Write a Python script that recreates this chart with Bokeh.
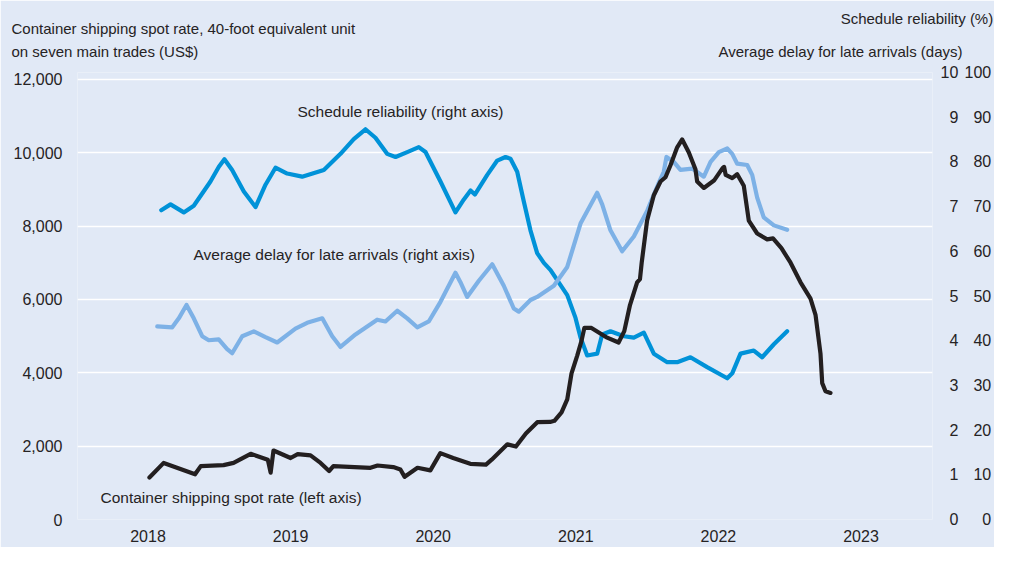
from bokeh.plotting import figure
from bokeh.models import Range1d, LinearAxis, FixedTicker, NumeralTickFormatter, Label
from bokeh.embed import file_html
from bokeh.resources import INLINE

# ---------------- data ----------------
years_spot = [2018.01, 2018.11, 2018.33, 2018.37, 2018.53, 2018.60, 2018.72, 2018.84, 2018.86, 2018.88,
              2019.00, 2019.05, 2019.14, 2019.21, 2019.27, 2019.30, 2019.56, 2019.61, 2019.72, 2019.77,
              2019.80, 2019.89, 2019.98, 2020.05, 2020.14, 2020.26, 2020.37, 2020.41, 2020.52, 2020.58,
              2020.65, 2020.73, 2020.82, 2020.85, 2020.90, 2020.94, 2020.97, 2021.01, 2021.04, 2021.06,
              2021.11, 2021.22, 2021.30, 2021.34, 2021.38, 2021.43, 2021.45, 2021.462, 2021.50, 2021.547,
              2021.594, 2021.629, 2021.664, 2021.711, 2021.746, 2021.792, 2021.839, 2021.851, 2021.898,
              2021.969, 2022.028, 2022.040, 2022.051, 2022.097, 2022.132, 2022.178, 2022.213, 2022.272,
              2022.342, 2022.383, 2022.442, 2022.506, 2022.576, 2022.646, 2022.681, 2022.716, 2022.728,
              2022.751, 2022.786]
spot_rate = [1144, 1543, 1232, 1455, 1482, 1543, 1791, 1631, 1277, 1881,
             1676, 1783, 1748, 1543, 1322, 1455, 1410, 1472, 1428, 1365,
             1163, 1410, 1339, 1809, 1676, 1517, 1498, 1631, 2049, 1988,
             2342, 2653, 2660, 2690, 2919, 3273, 3983, 4470, 4870, 5223,
             5223, 4957, 4824, 5136, 5846, 6466, 6554, 7000, 8150, 8840,
             9215, 9330, 9659, 10146, 10360, 10013, 9550, 9215, 9039,
             9240, 9572, 9614, 9393, 9305, 9412, 9100, 8150, 7797,
             7637, 7664, 7398, 7000, 6466, 6022, 5580, 4516, 3718,
             3494, 3451]

years_rel = [2018.093, 2018.158, 2018.251, 2018.321, 2018.438, 2018.497, 2018.536, 2018.590, 2018.672,
             2018.754, 2018.824, 2018.894, 2018.976, 2019.081, 2019.233, 2019.350, 2019.443, 2019.525,
             2019.595, 2019.677, 2019.736, 2019.818, 2019.899, 2019.946, 2020.051, 2020.156, 2020.215,
             2020.262, 2020.292, 2020.379, 2020.449, 2020.507, 2020.542, 2020.589, 2020.635, 2020.682,
             2020.729, 2020.776, 2020.823, 2020.940, 2020.998, 2021.033, 2021.080, 2021.150, 2021.185,
             2021.243, 2021.337, 2021.407, 2021.477, 2021.547, 2021.641, 2021.711, 2021.804, 2021.921,
             2022.062, 2022.097, 2022.155, 2022.248, 2022.307, 2022.389, 2022.482]
reliability = [69.2, 70.5, 68.7, 70.2, 75.6, 78.9, 80.6, 78.2, 73.4,
               69.9, 74.9, 78.7, 77.4, 76.7, 78.2, 81.8, 85.1, 87.3,
               85.4, 81.8, 81.1, 82.2, 83.3, 82.2, 75.6, 68.7, 71.6,
               73.6, 72.7, 77.1, 80.3, 81.1, 80.7, 77.8, 71.2, 64.7,
               59.6, 57.4, 55.8, 50.2, 45.1, 40.7, 36.7, 37.1, 41.4,
               42.1, 41.0, 40.7, 41.8, 37.1, 35.2, 35.2, 36.3, 34.1,
               31.6, 32.7, 37.1, 37.8, 36.3, 39.2, 42.1]

years_delay = [2018.065, 2018.170, 2018.216, 2018.270, 2018.321, 2018.380, 2018.426, 2018.496, 2018.555,
               2018.590, 2018.661, 2018.742, 2018.824, 2018.906, 2019.034, 2019.116, 2019.222, 2019.292,
               2019.350, 2019.455, 2019.607, 2019.665, 2019.748, 2019.818, 2019.888, 2019.969, 2020.051,
               2020.156, 2020.191, 2020.238, 2020.320, 2020.414, 2020.495, 2020.565, 2020.600, 2020.682,
               2020.729, 2020.846, 2020.940, 2021.033, 2021.150, 2021.185, 2021.243, 2021.325, 2021.407,
               2021.501, 2021.582, 2021.617, 2021.636, 2021.687, 2021.734, 2021.816, 2021.898, 2021.945,
               2022.003, 2022.062, 2022.097, 2022.132, 2022.202, 2022.237, 2022.272, 2022.318, 2022.389,
               2022.482]
delay_days = [4.32, 4.30, 4.50, 4.80, 4.50, 4.10, 4.01, 4.03, 3.81,
              3.72, 4.10, 4.21, 4.08, 3.96, 4.27, 4.40, 4.50, 4.10,
              3.86, 4.14, 4.47, 4.43, 4.67, 4.50, 4.30, 4.43, 4.87,
              5.52, 5.31, 4.98, 5.34, 5.71, 5.23, 4.72, 4.65, 4.91,
              4.98, 5.23, 5.65, 6.62, 7.31, 7.05, 6.47, 6.00, 6.33,
              6.91, 7.53, 7.78, 8.11, 8.00, 7.82, 7.85, 7.67, 8.00,
              8.22, 8.30, 8.18, 7.96, 7.93, 7.71, 7.20, 6.76, 6.58,
              6.48]

x_ticks = [2018, 2019, 2020, 2021, 2022, 2023]
left_ticks = [0, 2000, 4000, 6000, 8000, 10000, 12000]
days_ticks = list(range(0, 11))
pct_ticks = list(range(0, 101, 10))

title_left = ["Container shipping spot rate, 40-foot equivalent unit", "on seven main trades (US$)"]
title_right = ["Schedule reliability (%)", "Average delay for late arrivals (days)"]
label_rel = "Schedule reliability (right axis)"
label_delay = "Average delay for late arrivals (right axis)"
label_spot = "Container shipping spot rate (left axis)"

# ---------------- styling / layout ----------------
BG = "#e1e9f6"
TXT = "#262324"
BLACK = "#231f20"
BLUE = "#0092d8"
LIGHT = "#7db1e6"
FONT = "Liberation Sans"

W, H = 994, 547
FRAME_L, FRAME_R = 77, 932      # canvas px
FRAME_T, FRAME_B = 72, 519      # canvas px
X_START = 2018 - (147.5 - FRAME_L) / 142.6
X_END = 2018 + (FRAME_R - 147.5) / 142.6
Y_END = 12000 * 458 / 451
REF_B, REF_SCALE = 533, (FRAME_B - FRAME_T) / 458.0


def px_to_x(px):
    return X_START + (px - FRAME_L) / (FRAME_R - FRAME_L) * (X_END - X_START)


def py_to_y(py):
    return (FRAME_B - py) / (FRAME_B - FRAME_T) * Y_END


def ref_y(py):
    return FRAME_B - (REF_B - py) * REF_SCALE


p = figure(width=W, height=H, x_range=Range1d(X_START, X_END), y_range=Range1d(0, Y_END),
           output_backend="svg", toolbar_location=None,
           min_border_left=FRAME_L, min_border_right=40,
           min_border_top=FRAME_T, min_border_bottom=H - FRAME_B)
p.background_fill_color = BG
p.border_fill_color = BG
p.outline_line_color = None
p.xgrid.visible = False
p.ygrid.ticker = FixedTicker(ticks=left_ticks)
p.ygrid.grid_line_color = "white"
p.ygrid.grid_line_width = 1.6

p.extra_y_ranges = {"days": Range1d(0, 10), "pct": Range1d(0, 100)}


def style_axis(ax, standoff, size="16px"):
    ax.axis_line_color = None
    ax.major_tick_line_color = None
    ax.minor_tick_line_color = None
    ax.major_tick_out = 0
    ax.major_tick_in = 0
    ax.minor_tick_out = 0
    ax.minor_tick_in = 0
    ax.major_label_text_font = FONT
    ax.major_label_text_font_size = size
    ax.major_label_text_color = TXT
    ax.major_label_standoff = standoff


xa = p.xaxis[0]
xa.ticker = FixedTicker(ticks=x_ticks)
xa.major_label_overrides = {t: str(t) for t in x_ticks}
style_axis(xa, 10)

ya = p.yaxis[0]
ya.ticker = FixedTicker(ticks=left_ticks)
ya.formatter = NumeralTickFormatter(format="0,0")
style_axis(ya, 15)

FS = "\u2007"  # figure space: keeps the right-hand numbers right-aligned
days_axis = LinearAxis(y_range_name="days", ticker=FixedTicker(ticks=days_ticks))
days_axis.major_label_overrides = {t: FS * (2 - len(str(t))) + str(t) for t in days_ticks}
style_axis(days_axis, 8)
p.add_layout(days_axis, "right")

pct_axis = LinearAxis(y_range_name="pct", ticker=FixedTicker(ticks=pct_ticks))
pct_axis.major_label_overrides = {t: FS * (3 - len(str(t))) + str(t) for t in pct_ticks}
style_axis(pct_axis, 3)
p.add_layout(pct_axis, "right")


# ---------------- header texts (as tick labels of axes above the frame) ----------------
def header_axis(items, standoff):
    ticks = [px_to_x(cx) for cx, _ in items]
    ax = LinearAxis(ticker=FixedTicker(ticks=ticks))
    ax.major_label_overrides = {t: txt for t, (_, txt) in zip(ticks, items)}
    style_axis(ax, standoff, size="15px")
    p.add_layout(ax, "above")


# inner band: second lines; then left first line; then right first line
header_axis([(104.4, title_left[1]), (840.0, title_right[1])], 13)
header_axis([(182.8, title_left[0])], 3)
header_axis([(919.0, title_right[0])], -10)

# ---------------- lines ----------------
p.line(years_rel, reliability, y_range_name="pct", line_color=BLUE, line_width=4.2,
       line_join="round", line_cap="round")
p.line(years_delay, delay_days, y_range_name="days", line_color=LIGHT, line_width=4.2,
       line_join="round", line_cap="round")
p.line(years_spot, spot_rate, line_color=BLACK, line_width=4.2, line_join="round", line_cap="round")


# ---------------- in-plot series labels ----------------
def add_label(text, px, py, size="15.5px"):
    p.add_layout(Label(x=px_to_x(px), y=py_to_y(py), text=text, text_align="left",
                       text_baseline="middle", text_font=FONT, text_font_size=size,
                       text_color=TXT))


add_label(label_rel, 297, ref_y(115))
add_label(label_delay, 193, ref_y(261))
add_label(label_spot, 100, ref_y(510.7))

open("out.html", "w").write(file_html(p, INLINE))
